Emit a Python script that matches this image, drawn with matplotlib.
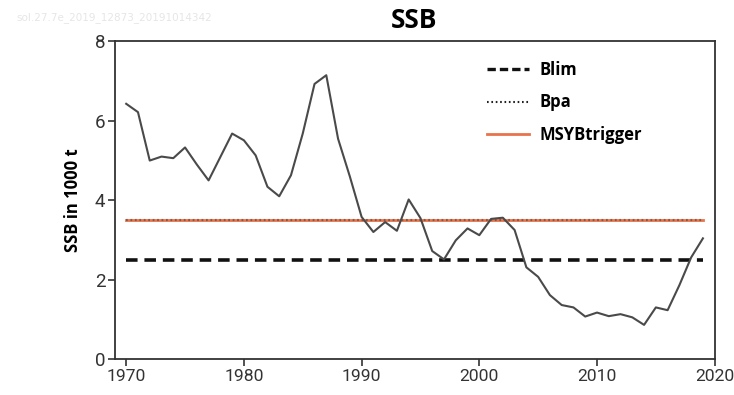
import matplotlib
matplotlib.use("Agg")
import matplotlib.pyplot as plt
from matplotlib.lines import Line2D

years = list(range(1970, 2020))
ssb = [6.43, 6.22, 5.00, 5.10, 5.06, 5.33, 4.90, 4.50, 5.09, 5.68,
       5.51, 5.13, 4.34, 4.10, 4.63, 5.68, 6.93, 7.15, 5.55, 4.60,
       3.58, 3.20, 3.45, 3.23, 4.02, 3.55, 2.72, 2.51, 2.99, 3.29,
       3.12, 3.53, 3.56, 3.25, 2.31, 2.07, 1.61, 1.36, 1.30, 1.07,
       1.17, 1.08, 1.13, 1.05, 0.86, 1.30, 1.23, 1.86, 2.56, 3.04]
blim = 2.5
bpa = 3.5
msy_btrigger = 3.5
ref_years = [1970, 2019]

title_text = "SSB"
ylabel_text = "SSB in 1000 t"
watermark = "sol.27.7e_2019_12873_20191014342"
xticks = [1970, 1980, 1990, 2000, 2010, 2020]
yticks = [0, 2, 4, 6, 8]

fig = plt.figure(figsize=(7.34, 3.95), dpi=100)
ax = fig.add_axes([0.1567, 0.0911, 0.9737 - 0.1567, 0.895 - 0.0911])

ax.plot(years, ssb, color="#4a4a4a", lw=1.5, zorder=4)
ax.plot(ref_years, [blim, blim], color="#111111", lw=2.6, ls=(0, (3.2, 1.9)), zorder=3)
ax.plot(ref_years, [msy_btrigger, msy_btrigger], color="#E8734A", lw=2.0, zorder=2)
ax.plot(ref_years, [bpa, bpa], color="#444444", lw=1.6, ls=(0, (0.8, 1.2)), alpha=0.6, zorder=3)

ax.set_xlim(1969.05, 2020)
ax.set_ylim(0, 8)
ax.set_xticks(xticks)
ax.set_yticks(yticks)
ax.tick_params(direction="out", length=5, width=1.2, colors="#333333",
               labelsize=13.5, pad=2)
ax.tick_params(axis="x", labelsize=12.6)
for lab in ax.get_xticklabels() + ax.get_yticklabels():
    lab.set_fontfamily("Roboto")
    lab.set_color("#333333")
for s in ax.spines.values():
    s.set_linewidth(1.3)
    s.set_color("#333333")

ax.set_ylabel(ylabel_text, fontfamily="Open Sans", fontweight="bold",
              fontsize=12, labelpad=9)
fig.text(0.564, 0.947, title_text, ha="center", va="center",
         fontfamily="Open Sans", fontweight="bold", fontsize=19)
fig.text(0.022, 0.955, watermark, ha="left", va="center",
         fontfamily="DejaVu Sans", fontsize=7.5, color="#e6e6e6")

handles = [
    Line2D([], [], color="#111111", lw=2.4, ls=(0, (2.5, 1.2))),
    Line2D([], [], color="#222222", lw=1.5, ls=(0, (0.8, 1.3))),
    Line2D([], [], color="#E8734A", lw=2.0),
]
labels = ["Blim", "Bpa", "MSYBtrigger"]
leg = ax.legend(handles, labels, loc="upper left", bbox_to_anchor=(0.596, 0.985),
                frameon=False, handlelength=2.5, handletextpad=0.6,
                labelspacing=0.85,
                prop={"family": "Open Sans", "weight": "bold", "size": 12})

fig.savefig("out.png", dpi=100)
